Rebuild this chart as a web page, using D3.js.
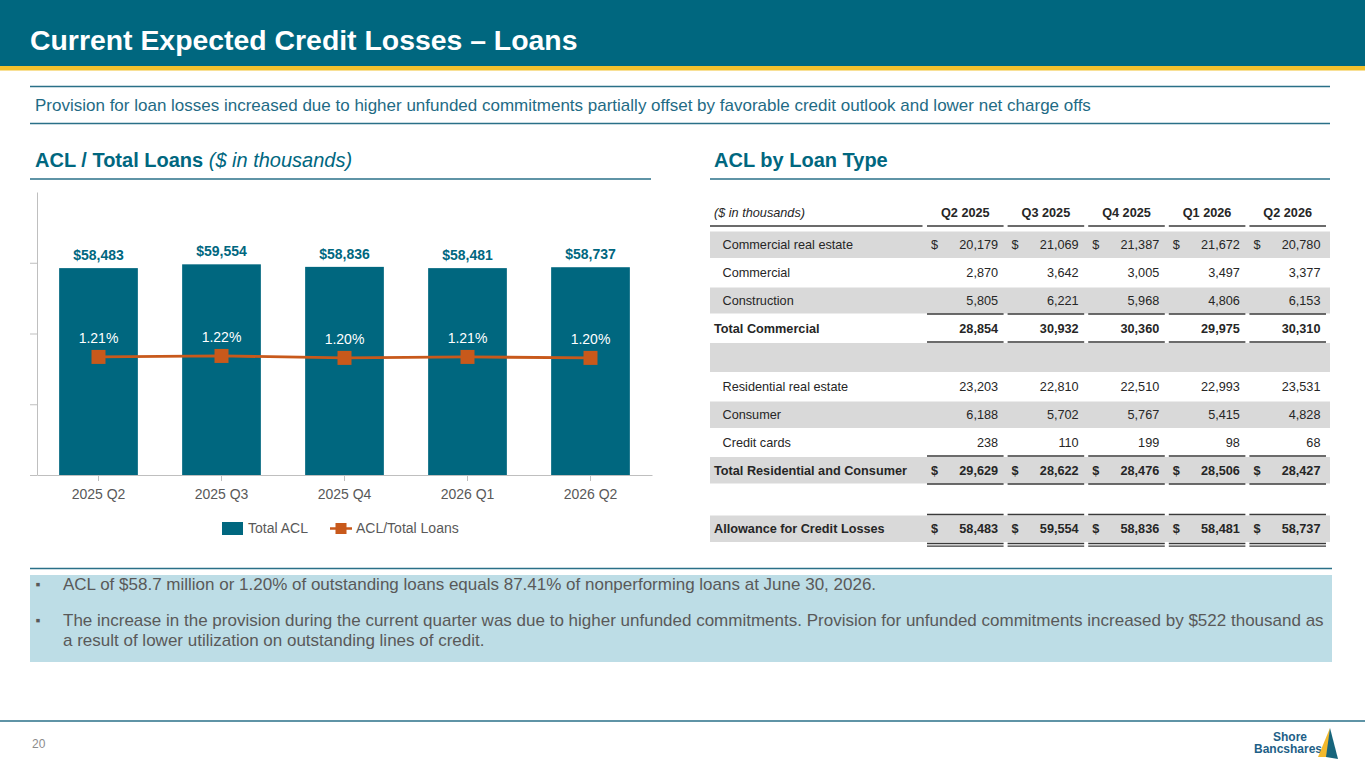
<!DOCTYPE html>
<html>
<head>
<meta charset="utf-8">
<script src="https://cdn.jsdelivr.net/npm/d3@7"></script>
<style>
  body { margin: 0; background: #fff; }
  svg { display: block; font-family: Arial, "Liberation Sans", sans-serif; }
</style>
</head>
<body>
<div id="canvas"></div>
<script>
// chart data
const quarters = ["2025 Q2", "2025 Q3", "2025 Q4", "2026 Q1", "2026 Q2"];
const totalACL = [58483, 59554, 58836, 58481, 58737];
const aclRatio = [1.21, 1.22, 1.20, 1.21, 1.20];
const yTicks = [0, 20000, 40000, 60000];
const legendLabels = ["Total ACL", "ACL/Total Loans"];

// table data
const tableCols = ["Q2 2025", "Q3 2025", "Q4 2025", "Q1 2026", "Q2 2026"];
const rowLabels = ["Commercial real estate", "Commercial", "Construction", "Total Commercial", "",
  "Residential real estate", "Consumer", "Credit cards", "Total Residential and Consumer", "",
  "Allowance for Credit Losses"];
const rowValues = [
  [20179, 21069, 21387, 21672, 20780],
  [2870, 3642, 3005, 3497, 3377],
  [5805, 6221, 5968, 4806, 6153],
  [28854, 30932, 30360, 29975, 30310],
  null,
  [23203, 22810, 22510, 22993, 23531],
  [6188, 5702, 5767, 5415, 4828],
  [238, 110, 199, 98, 68],
  [29629, 28622, 28476, 28506, 28427],
  null,
  [58483, 59554, 58836, 58481, 58737]
];

const title = "Current Expected Credit Losses \u2013 Loans";
const subtitle = "Provision for loan losses increased due to higher unfunded commitments partially offset by favorable credit outlook and lower net charge offs";
const bullets = [
  ["ACL of $58.7 million or 1.20% of outstanding loans equals 87.41% of nonperforming loans at June 30, 2026."],
  ["The increase in the provision during the current quarter was due to higher unfunded commitments. Provision for unfunded commitments increased by $522 thousand as",
   "a result of lower utilization on outstanding lines of credit."]
];

const teal = "#00677f", orange = "#c8591b", gold = "#f2c12e", grey = "#595959";

const svg = d3.select("#canvas").append("svg")
    .attr("width", 1365)
    .attr("height", 768);

// header band
svg.append("rect").attr("x", 0).attr("y", 0).attr("width", 1365).attr("height", 67).attr("fill", teal);
svg.append("rect").attr("x", 0).attr("y", 66).attr("width", 1365).attr("height", 4.5).attr("fill", gold);
svg.append("text").attr("x", 30).attr("y", 50)
    .attr("fill", "#fff").attr("font-size", 28.4).attr("font-weight", "bold")
    .text(title);

// subtitle between rules
const rule = (x1, x2, y, w) => svg.append("line")
    .attr("x1", x1).attr("x2", x2).attr("y1", y).attr("y2", y)
    .attr("stroke", "#2a7088").attr("stroke-width", w || 1.5);
rule(30, 1330, 86.5);
rule(30, 1330, 123.5);
svg.append("text").attr("x", 35).attr("y", 111)
    .attr("fill", "#1f6b85").attr("font-size", 17)
    .text(subtitle);

// section headings
const h1 = svg.append("text").attr("x", 35).attr("y", 167)
    .attr("fill", teal).attr("font-size", 20).attr("font-weight", "bold");
h1.append("tspan").text("ACL / Total Loans ");
h1.append("tspan").attr("font-weight", "normal").attr("font-style", "italic").text("($ in thousands)");
rule(30, 651, 179);
svg.append("text").attr("x", 714).attr("y", 167)
    .attr("fill", teal).attr("font-size", 20).attr("font-weight", "bold")
    .text("ACL by Loan Type");
rule(710, 1330, 179);

// ---- combo chart ----
const x = d3.scaleBand().domain(quarters).range([37, 652]).paddingInner(0.36).paddingOuter(0.18);
const y = d3.scaleLinear().domain([0, 80000]).range([475, 192]);
const yPct = d3.scaleLinear().domain([0, 2.9]).range([475, 192]);

const chart = svg.append("g");

chart.append("g")
    .attr("transform", "translate(37,0)")
    .call(d3.axisLeft(y).tickValues(yTicks).tickFormat("").tickSize(7).tickSizeOuter(0))
    .call(g => g.selectAll("path,line").attr("stroke", "#bfbfbf"));

chart.selectAll(".bar")
  .data(totalACL)
  .enter().append("rect")
    .attr("class", "bar")
    .attr("x", (d, i) => x(quarters[i]))
    .attr("y", d => y(d))
    .attr("width", x.bandwidth())
    .attr("height", d => y(0) - y(d))
    .attr("fill", teal);

chart.append("g")
    .attr("transform", "translate(0,475)")
    .call(d3.axisBottom(x).tickSize(6).tickSizeOuter(0).tickPadding(8))
    .call(g => g.selectAll("path,line").attr("stroke", "#bfbfbf"))
    .call(g => g.selectAll("text").attr("fill", grey).attr("font-size", 14).attr("font-family", null));

chart.selectAll(".bar-label")
  .data(totalACL)
  .enter().append("text")
    .attr("class", "bar-label")
    .attr("x", (d, i) => x(quarters[i]) + x.bandwidth() / 2)
    .attr("y", d => y(d) - 8)
    .attr("text-anchor", "middle")
    .attr("fill", teal).attr("font-size", 14).attr("font-weight", "bold")
    .text(d => "$" + d3.format(",")(d));

const cx = (d, i) => x(quarters[i]) + x.bandwidth() / 2;
const ratioLine = d3.line().x(cx).y(d => yPct(d));
chart.append("path")
    .datum(aclRatio)
    .attr("d", ratioLine)
    .attr("fill", "none").attr("stroke", orange).attr("stroke-width", 2.8);

chart.selectAll(".marker")
  .data(aclRatio)
  .enter().append("rect")
    .attr("class", "marker")
    .attr("x", (d, i) => cx(d, i) - 7)
    .attr("y", d => yPct(d) - 7)
    .attr("width", 14).attr("height", 14)
    .attr("fill", orange);

chart.selectAll(".pct-label")
  .data(aclRatio)
  .enter().append("text")
    .attr("class", "pct-label")
    .attr("x", cx)
    .attr("y", d => yPct(d) - 14)
    .attr("text-anchor", "middle")
    .attr("fill", "#fff").attr("font-size", 14)
    .text(d => d3.format(".2f")(d) + "%");

// legend
const legend = svg.append("g").attr("transform", "translate(222,528)");
legend.append("rect").attr("x", 0).attr("y", -6).attr("width", 21).attr("height", 13).attr("fill", teal);
legend.append("text").attr("x", 26).attr("y", 5).attr("fill", grey).attr("font-size", 14).text(legendLabels[0]);
legend.append("line").attr("x1", 108).attr("x2", 130).attr("y1", 0.5).attr("y2", 0.5)
    .attr("stroke", orange).attr("stroke-width", 2.5);
legend.append("rect").attr("x", 113.5).attr("y", -5).attr("width", 11).attr("height", 11).attr("fill", orange);
legend.append("text").attr("x", 134).attr("y", 5).attr("fill", grey).attr("font-size", 14).text(legendLabels[1]);

// ---- table ----
const col = d3.scaleBand().domain(tableCols).range([925, 1328]).paddingInner(0.05).paddingOuter(0.025);
const rowHeights = [28, 28, 27.5, 28, 30.5, 28, 28, 27.5, 28, 30.5, 28];
const rowTops = rowHeights.map((h, i) => 230.5 + d3.sum(rowHeights.slice(0, i)));
const shaded = [0, 2, 4, 6, 8, 10];
const boldRows = [3, 8, 10];
const dollarRows = [0, 8, 10];
const ruledRows = [3, 8, 10];
const fmt = d3.format(",");
const table = svg.append("g").attr("font-size", 12.7).attr("fill", "#262626");

// header
table.append("text").attr("x", 714).attr("y", 216.5).attr("font-style", "italic").text("($ in thousands)");
table.selectAll(".colhead")
  .data(tableCols)
  .enter().append("text")
    .attr("x", d => col(d) + col.bandwidth() / 2)
    .attr("y", 216.5)
    .attr("text-anchor", "middle").attr("font-weight", "bold")
    .text(d => d);
const segs = [[710, 922.5]].concat(tableCols.map(c => [col(c), col(c) + col.bandwidth()]));
const hline = (x1, x2, yy, w) => table.append("line")
    .attr("x1", x1).attr("x2", x2).attr("y1", yy).attr("y2", yy)
    .attr("stroke", "#3a3a3a").attr("stroke-width", w || 1.6);
segs.forEach(s => hline(s[0], s[1], 226));

rowLabels.forEach((label, i) => {
  const top = rowTops[i], h = rowHeights[i], mid = top + h / 2 + 4.5;
  const bold = boldRows.includes(i);
  if (shaded.includes(i)) {
    table.append("rect").attr("x", 710).attr("y", top + 1).attr("width", 620).attr("height", h - 1.5).attr("fill", "#d9d9d9");
  }
  table.append("text").attr("x", bold ? 714 : 722.5).attr("y", mid)
      .attr("font-weight", bold ? "bold" : null).text(label);
  if (!rowValues[i]) return;
  rowValues[i].forEach((v, j) => {
    const c = tableCols[j];
    table.append("text").attr("x", col(c) + col.bandwidth() - 5.5).attr("y", mid)
        .attr("text-anchor", "end").attr("font-weight", bold ? "bold" : null)
        .text(fmt(v));
    if (dollarRows.includes(i)) {
      table.append("text").attr("x", col(c) + 4).attr("y", mid)
          .attr("font-weight", bold ? "bold" : null).text("$");
    }
  });
  if (ruledRows.includes(i)) {
    tableCols.forEach(c => {
      hline(col(c), col(c) + col.bandwidth(), top);
      if (i === rowLabels.length - 1) {
        hline(col(c), col(c) + col.bandwidth(), top + h + 1, 1.3);
        hline(col(c), col(c) + col.bandwidth(), top + h + 3.6, 1.3);
      } else {
        hline(col(c), col(c) + col.bandwidth(), top + h);
      }
    });
  }
});

// ---- commentary box ----
rule(30, 1332, 568.5);
svg.append("rect").attr("x", 30).attr("y", 575).attr("width", 1302).attr("height", 87).attr("fill", "#bddde6");
const lineYs = [[590], [626, 646]];
bullets.forEach((lines, b) => {
  svg.append("text").attr("x", 35.5).attr("y", lineYs[b][0] - 1).attr("fill", grey).attr("font-size", 14).text("\u25aa");
  lines.forEach((t, k) => {
    svg.append("text").attr("x", 63).attr("y", lineYs[b][k])
        .attr("fill", grey).attr("font-size", 17).text(t);
  });
});

// ---- footer ----
svg.append("line").attr("x1", 0).attr("x2", 1365).attr("y1", 721).attr("y2", 721)
    .attr("stroke", "#2a7088").attr("stroke-width", 1.5);
svg.append("text").attr("x", 32).attr("y", 748).attr("fill", "#8c8c8c").attr("font-size", 12).text("20");

const logo = svg.append("g");
logo.append("text").attr("x", 1290).attr("y", 741).attr("text-anchor", "middle")
    .attr("fill", "#1d5f87").attr("font-size", 12).attr("font-weight", "bold").text("Shore");
logo.append("text").attr("x", 1288).attr("y", 753).attr("text-anchor", "middle")
    .attr("fill", "#1d5f87").attr("font-size", 12).attr("font-weight", "bold").text("Bancshares");
logo.append("path").attr("d", "M1330,728 L1318,757 L1329,757 Z").attr("fill", "#f2b92e");
logo.append("path").attr("d", "M1330,728 L1338,759 L1326,757 Z").attr("fill", "#17657c");
</script>
</body>
</html>
